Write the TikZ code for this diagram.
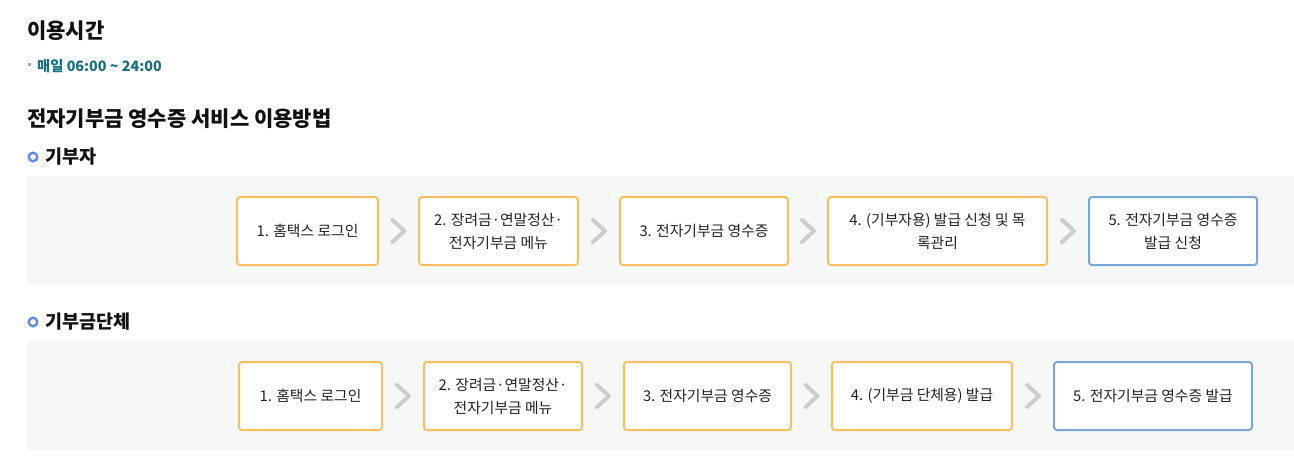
\documentclass[tikz,border=0pt]{standalone}
\usepackage{fontspec}
\setmainfont{Noto Sans CJK KR}
\usetikzlibrary{calc}
\definecolor{orb}{HTML}{FFBE5C}
\definecolor{blb}{HTML}{7AA6D8}
\definecolor{tealt}{HTML}{16707F}
\definecolor{ringc}{HTML}{5B8DEF}
\definecolor{panelc}{HTML}{F6F8F8}
\definecolor{chevc}{HTML}{CCCCCC}
\definecolor{txt}{HTML}{222222}
\definecolor{headc}{HTML}{111111}
\tikzset{
  x=1pt, y=-1pt,
  stepbox/.style={draw=orb, line width=2pt, rounded corners=3pt, fill=white,
    minimum height=68pt, inner sep=0pt, align=center, text=txt,
    font=\fontsize{14.8}{23}\selectfont},
  lastbox/.style={stepbox, draw=blb},
  heading/.style={anchor=west, inner sep=0pt, text=headc, font=\fontsize{21}{24}\selectfont\bfseries},
  subhead/.style={anchor=west, inner sep=0pt, text=headc, font=\fontsize{18.5}{21}\selectfont\bfseries},
  panel/.style={fill=panelc, draw=none},
  chevron/.pic={\draw[chevc, line width=4pt, line cap=round, line join=round] (-6,-11) -- (6,0) -- (-6,11);},
  ringmark/.style={draw=ringc, line width=2.4pt, circle, minimum size=8.6pt, inner sep=0pt},
}
\begin{document}
\begin{tikzpicture}
\useasboundingbox[fill=white] (0,0) rectangle (1294,475);
% headings
\node[heading] (t1) at (27,31) {이용시간};
\fill[gray!70] (27.5,62.5) rectangle (30.5,65.5);
\node[anchor=west, inner sep=0pt, text=tealt, font=\fontsize{14.3}{16}\selectfont\bfseries] (t2) at (37,66) {매일 06:00 \textasciitilde{} 24:00};
\node[heading] (t3) at (27,119) {전자기부금 영수증 서비스 이용방법};
\node[ringmark] (c1) at (33,157) {};
\node[subhead] (s1) at (45,157) {기부자};
\node[ringmark] (c2) at (33,322) {};
\node[subhead] (s2) at (45,322) {기부금단체};
% panels
\fill[panel] (27,176) rectangle (1294,285);
\fill[panel] (27,341) rectangle (1294,450);
% row 1
\node[stepbox, minimum width=141pt] (a1) at (307.5,231) {1. 홈택스 로그인};
\node[stepbox, minimum width=159pt] (a2) at (498.5,231) {2. 장려금·연말정산·\\전자기부금 메뉴};
\node[stepbox, minimum width=168pt] (a3) at (704,231) {3. 전자기부금 영수증};
\node[stepbox, minimum width=219pt] (a4) at (937.5,231) {4. (기부자용) 발급 신청 및 목\\록관리};
\node[lastbox, minimum width=168pt] (a5) at (1173,231) {5. 전자기부금 영수증\\발급 신청};
\path ($(a1.east)!0.5!(a2.west)$) pic{chevron};
\path ($(a2.east)!0.5!(a3.west)$) pic{chevron};
\path ($(a3.east)!0.5!(a4.west)$) pic{chevron};
\path ($(a4.east)!0.5!(a5.west)$) pic{chevron};
% row 2
\node[stepbox, minimum width=143pt] (b1) at (310.5,396) {1. 홈택스 로그인};
\node[stepbox, minimum width=158pt] (b2) at (503,396) {2. 장려금·연말정산·\\전자기부금 메뉴};
\node[stepbox, minimum width=167pt] (b3) at (707.5,396) {3. 전자기부금 영수증};
\node[stepbox, minimum width=180pt] (b4) at (922,396) {4. (기부금 단체용) 발급};
\node[lastbox, minimum width=198pt] (b5) at (1153,396) {5. 전자기부금 영수증 발급};
\path ($(b1.east)!0.5!(b2.west)$) pic{chevron};
\path ($(b2.east)!0.5!(b3.west)$) pic{chevron};
\path ($(b3.east)!0.5!(b4.west)$) pic{chevron};
\path ($(b4.east)!0.5!(b5.west)$) pic{chevron};
\end{tikzpicture}
\end{document}
